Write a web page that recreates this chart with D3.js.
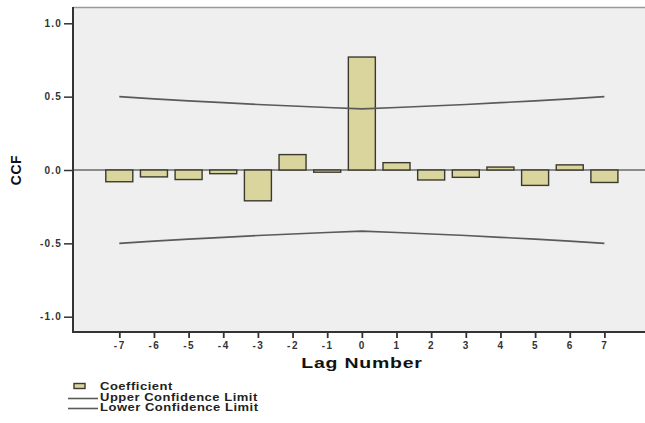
<!DOCTYPE html>
<html>
<head>
<meta charset="utf-8">
<script src="https://cdn.jsdelivr.net/npm/d3@7"></script>
<style>
  html, body { margin: 0; padding: 0; background: #fff; }
  svg { display: block; font-family: "Liberation Sans", Arial, sans-serif; }
</style>
</head>
<body>
<svg id="chart" width="645" height="423"></svg>
<script>
// Cross-correlation coefficients by lag
const lags = [-7, -6, -5, -4, -3, -2, -1, 0, 1, 2, 3, 4, 5, 6, 7];
const ccf = [-0.08, -0.047, -0.065, -0.025, -0.21, 0.105, -0.015, 0.77, 0.05, -0.068, -0.05, 0.02, -0.105, 0.035, -0.085];
// Confidence limits per lag
const upperLimit = [0.500, 0.485, 0.471, 0.459, 0.447, 0.436, 0.426, 0.417, 0.426, 0.436, 0.447, 0.459, 0.471, 0.485, 0.500];
const lowerLimit = upperLimit.map(v => -v);
const yTicks = [-1.0, -0.5, 0.0, 0.5, 1.0];
const legendItems = ["Coefficient", "Upper Confidence Limit", "Lower Confidence Limit"];

const svg = d3.select("#chart");

const plot = { left: 73, right: 646, top: 7, bottom: 332 };
const x = d3.scaleLinear().domain([-7, 7]).range([119.3, 604.4]);
const y = d3.scaleLinear().domain([-1, 1]).range([316.7, 23.3]);
const barW = 27;
const hyphen = f => d => f(d).replace("\u2212", "-");

// plot background
svg.append("rect")
  .attr("x", plot.left).attr("y", plot.top)
  .attr("width", plot.right - plot.left).attr("height", plot.bottom - plot.top)
  .attr("fill", "#efefef");
svg.append("line")
  .attr("x1", plot.left).attr("x2", plot.right)
  .attr("y1", plot.top + 0.5).attr("y2", plot.top + 0.5)
  .attr("stroke", "#9a9a9a").attr("stroke-width", 1.5);

// zero reference line
svg.append("line")
  .attr("x1", plot.left).attr("x2", plot.right)
  .attr("y1", y(0)).attr("y2", y(0))
  .attr("stroke", "#6a6a6a").attr("stroke-width", 1.5);

// bars
svg.append("g").selectAll("rect")
  .data(lags.map((l, i) => ({ lag: l, v: ccf[i] })))
  .join("rect")
  .attr("x", d => x(d.lag) - barW / 2)
  .attr("y", d => y(Math.max(0, d.v)))
  .attr("width", barW)
  .attr("height", d => Math.abs(y(d.v) - y(0)))
  .attr("fill", "#d9d59c")
  .attr("stroke", "#3a3a30")
  .attr("stroke-width", 1.4);

// confidence limit lines
const line = d3.line().x(d => x(d[0])).y(d => y(d[1]));
[upperLimit, lowerLimit].forEach(arr => {
  svg.append("path")
    .datum(lags.map((l, i) => [l, arr[i]]))
    .attr("d", line)
    .attr("fill", "none")
    .attr("stroke", "#5a5a5a")
    .attr("stroke-width", 1.6);
});

// y axis
const yAxis = svg.append("g")
  .attr("transform", `translate(${plot.left},0)`)
  .call(d3.axisLeft(y).tickValues(yTicks).tickFormat(hyphen(d3.format(".1f"))).tickSize(9).tickSizeOuter(0));
yAxis.select(".domain").remove();
yAxis.append("line")
  .attr("x1", 0).attr("x2", 0).attr("y1", plot.top).attr("y2", plot.bottom + 1)
  .attr("stroke", "#333").attr("stroke-width", 2);
yAxis.selectAll(".tick line").attr("stroke", "#333").attr("stroke-width", 1.5);
yAxis.selectAll(".tick text")
  .attr("x", -11)
  .attr("fill", "#333")
  .style("font-size", "10px").style("font-weight", "bold").style("letter-spacing", "1.2px");

// x axis
const xAxis = svg.append("g")
  .attr("transform", `translate(0,${plot.bottom})`)
  .call(d3.axisBottom(x).tickValues(lags).tickFormat(hyphen(d3.format("d"))).tickSize(6).tickSizeOuter(0));
xAxis.select(".domain").remove();
xAxis.append("line")
  .attr("x1", plot.left - 1).attr("x2", plot.right).attr("y1", 0).attr("y2", 0)
  .attr("stroke", "#333").attr("stroke-width", 2);
xAxis.selectAll(".tick line").attr("stroke", "#333").attr("stroke-width", 1.8);
xAxis.selectAll(".tick text")
  .attr("y", 10)
  .attr("fill", "#333")
  .style("font-size", "10px").style("font-weight", "bold").style("letter-spacing", "1.5px");

// axis titles (horizontally widened lettering)
svg.append("text")
  .attr("transform", "translate(362,368) scale(1.3,1)")
  .attr("text-anchor", "middle")
  .style("font-size", "15px").style("font-weight", "bold").style("letter-spacing", "0.6px")
  .attr("fill", "#111")
  .text("Lag Number");
svg.append("text")
  .attr("transform", "translate(21,170) rotate(-90)")
  .attr("text-anchor", "middle")
  .style("font-size", "14px").style("font-weight", "bold").style("letter-spacing", "0.5px")
  .attr("fill", "#111")
  .text("CCF");

// legend
const lg = svg.append("g");
lg.append("rect")
  .attr("x", 74).attr("y", 383.5).attr("width", 11).attr("height", 5)
  .attr("fill", "#d9d59c").attr("stroke", "#3a3a30").attr("stroke-width", 1.4);
[398.5, 408.5].forEach(yy => {
  lg.append("line")
    .attr("x1", 68).attr("x2", 98).attr("y1", yy).attr("y2", yy)
    .attr("stroke", "#5a5a5a").attr("stroke-width", 1.6);
});
lg.selectAll("text.leg")
  .data(legendItems)
  .join("text")
  .attr("class", "leg")
  .attr("transform", (d, i) => `translate(100,${390 + i * 10.5}) scale(1.3,1)`)
  .attr("fill", "#222")
  .style("font-size", "10px").style("font-weight", "bold").style("letter-spacing", "0.4px")
  .text(d => d);
</script>
</body>
</html>
